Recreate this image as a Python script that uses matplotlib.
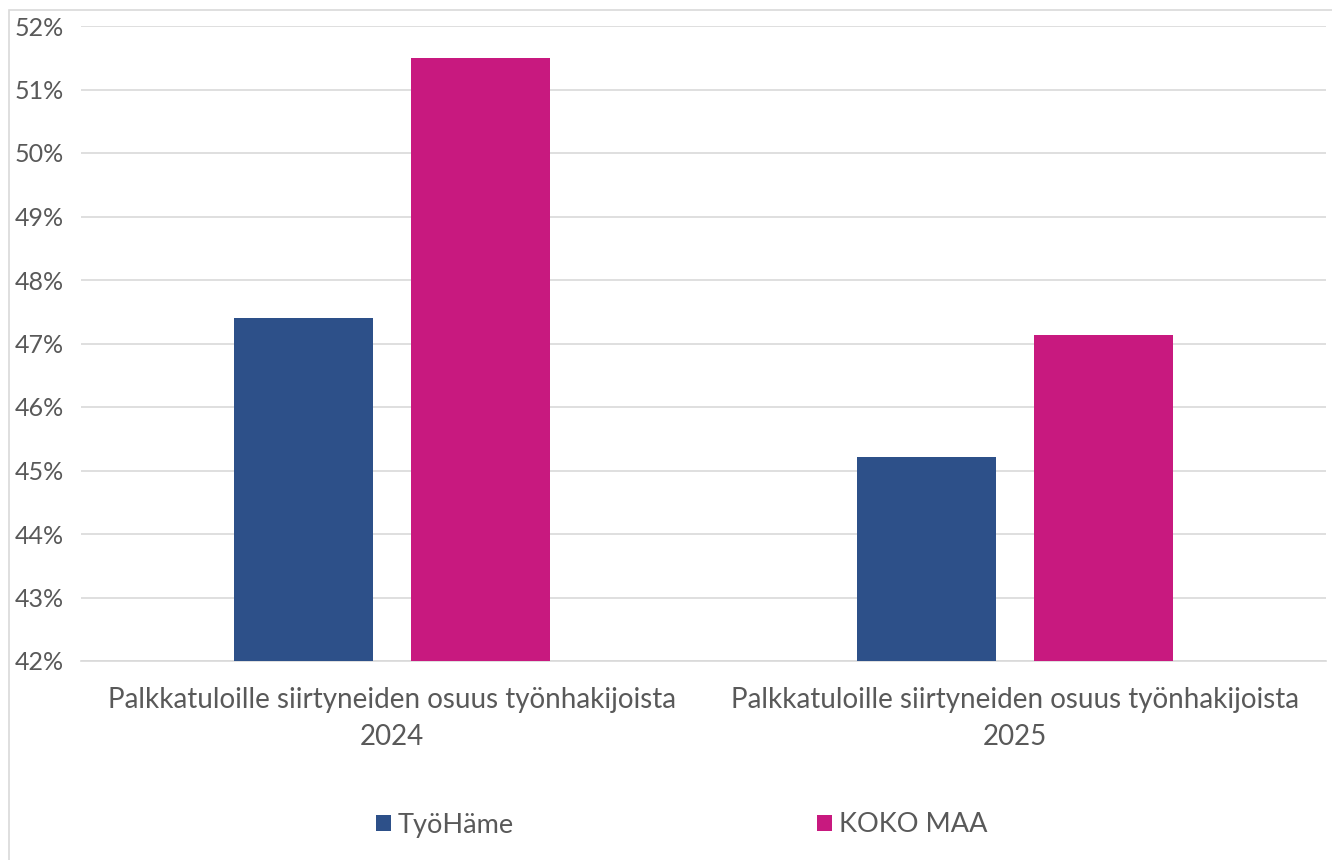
import numpy as np
import matplotlib
matplotlib.use('Agg')
import matplotlib.pyplot as plt
from matplotlib.patches import Rectangle
from matplotlib.ticker import FuncFormatter

plt.rcParams.update({
    'font.family': ['Lato', 'DejaVu Sans'],
    'font.size': 18,
    'text.color': '#595959',
    'xtick.color': '#595959',
    'ytick.color': '#595959',
})

categories = ["Palkkatuloille siirtyneiden osuus työnhakijoista\n2024",
              "Palkkatuloille siirtyneiden osuus työnhakijoista\n2025"]
series_names = ["TyöHäme", "KOKO MAA"]
tyohame = [47.4, 45.22]
koko_maa = [51.5, 47.14]
colors = ['#2D5089', '#C8197F']

W, H = 1332, 860
fig = plt.figure(figsize=(W / 100, H / 100), dpi=100)
ax = fig.add_axes([81 / W, 1 - 661 / H, (1326 - 81) / W, (661 - 26) / H])

# kehys (vain ylä- ja vasen reuna näkyvissä)
fig.patches.append(Rectangle((9 / W, -0.1), 1.2, 1 - 10 / H + 0.1,
                             transform=fig.transFigure, fill=False,
                             edgecolor='#D9D9D9', linewidth=1.2))

x = np.arange(len(categories))
bw = 0.223
off = 0.142
ax.bar(x - off, tyohame, width=bw, color=colors[0], label=series_names[0], zorder=3)
ax.bar(x + off, koko_maa, width=bw, color=colors[1], label=series_names[1], zorder=3)

ax.set_ylim(42, 52)
ax.set_xlim(-0.5, 1.5)
ax.set_yticks(np.arange(42, 53, 1))
ax.yaxis.set_major_formatter(FuncFormatter(lambda v, p: f"{v:.0f}%"))
ax.yaxis.grid(True, color='#D9D9D9', linewidth=1.2, zorder=0)
ax.set_axisbelow(True)
for s in ['top', 'right', 'left']:
    ax.spines[s].set_visible(False)
ax.spines['bottom'].set_color('#D9D9D9')
ax.spines['bottom'].set_linewidth(1.2)
ax.tick_params(axis='y', length=0, pad=48, labelsize=18)
for lbl in ax.get_yticklabels():
    lbl.set_horizontalalignment('left')
ax.set_xticks(x)
ax.set_xticklabels(categories, fontsize=20, linespacing=1.5)
ax.tick_params(axis='x', length=0, pad=19)

ax.legend(loc='center', bbox_to_anchor=(682 / W, 1 - 825 / H),
          bbox_transform=fig.transFigure, ncol=2, frameon=False, fontsize=19.5,
          handlelength=0.55, handleheight=0.55, handletextpad=0.25, columnspacing=11.2)

fig.savefig('out.png', dpi=100)
